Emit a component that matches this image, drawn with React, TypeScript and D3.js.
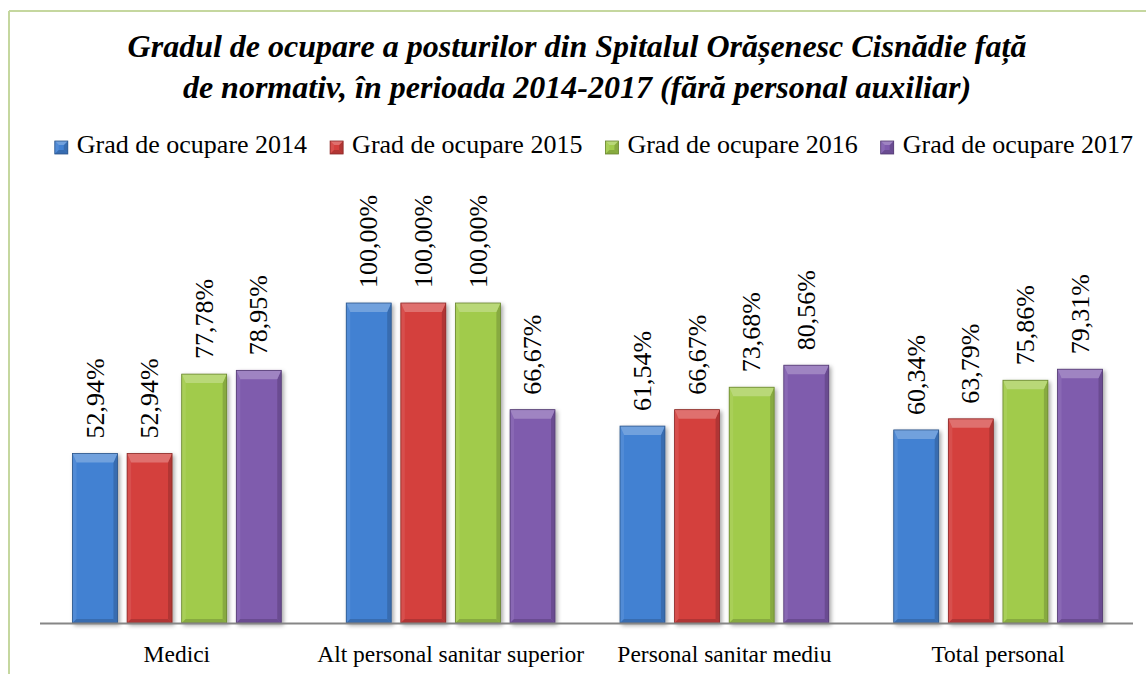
import React, { useEffect, useRef } from 'react';
import * as d3 from 'd3';

// categories and series
const categories = ['Medici', 'Alt personal sanitar superior', 'Personal sanitar mediu', 'Total personal'];
const seriesNames = ['Grad de ocupare 2014', 'Grad de ocupare 2015', 'Grad de ocupare 2016', 'Grad de ocupare 2017'];
const values2014 = [52.94, 100.0, 61.54, 60.34];
const values2015 = [52.94, 100.0, 66.67, 63.79];
const values2016 = [77.78, 100.0, 73.68, 75.86];
const values2017 = [78.95, 66.67, 80.56, 79.31];
const seriesColors = ['#4281d2', '#d4403e', '#a1cb4b', '#7f5bad'];

const titleLines = [
  'Gradul de ocupare a posturilor din Spitalul Orășenesc Cisnădie față',
  'de normativ, în perioada 2014-2017 (fără personal auxiliar)',
];

const SERIF = "'Liberation Serif', 'Times New Roman', Tinos, 'DejaVu Serif', serif";

function App() {
  const ref = useRef<SVGSVGElement | null>(null);

  useEffect(() => {
    if (!ref.current) return;
    const W = 1146, H = 674;
    const svg = d3.select(ref.current);
    svg.selectAll('*').remove();

    const allSeries = [values2014, values2015, values2016, values2017];
    const fmt = (v: number) => v.toFixed(2).replace('.', ',') + '%';

    const defs = svg.append('defs');
    const f = defs.append('filter').attr('id', 'shadow').attr('x', '-20%').attr('y', '-20%').attr('width', '150%').attr('height', '150%');
    f.append('feDropShadow').attr('dx', 2).attr('dy', 2).attr('stdDeviation', 2).attr('flood-color', '#000').attr('flood-opacity', 0.35);

    // frame
    svg.append('line').attr('x1', 9).attr('x2', W).attr('y1', 11).attr('y2', 11).attr('stroke', '#c5d79f').attr('stroke-width', 2);
    svg.append('line').attr('x1', 9).attr('x2', 9).attr('y1', 11).attr('y2', H).attr('stroke', '#c5d79f').attr('stroke-width', 2);

    // title
    svg.append('g').selectAll('text').data(titleLines).enter().append('text')
      .attr('x', 577).attr('y', (d, i) => 57 + i * 41)
      .attr('text-anchor', 'middle')
      .style('font-family', SERIF)
      .attr('font-weight', 'bold').attr('font-style', 'italic')
      .attr('font-size', 32).attr('fill', '#000')
      .text(d => d);

    // scales
    const x0 = d3.scaleBand<string>().domain(categories).range([40, 1135]);
    const groupPad = 32.5;
    const x1 = d3.scaleBand<number>().domain([0, 1, 2, 3])
      .range([0, x0.bandwidth() - groupPad * 2]).paddingInner(0.177).paddingOuter(0);
    const y = d3.scaleLinear().domain([0, 100]).range([623, 303]);

    const drawBevelBar = (g: any, bx: number, by: number, bw: number, bh: number, color: string, bev: number, side: number) => {
      const c = d3.color(color)!;
      const light = d3.interpolateRgb(color, '#ffffff')(0.25);
      const dark = c.darker(0.5).formatHex();
      const darker = c.darker(1.2).formatHex();
      g.append('rect').attr('x', bx).attr('y', by).attr('width', bw).attr('height', bh).attr('fill', color);
      // left side
      g.append('path').attr('d', `M${bx},${by}L${bx + side},${by + bev}L${bx + side},${by + bh - side}L${bx},${by + bh}Z`)
        .attr('fill', d3.interpolateRgb(color, '#ffffff')(0.08));
      // right side
      g.append('path').attr('d', `M${bx + bw},${by}L${bx + bw - side},${by + bev}L${bx + bw - side},${by + bh - side}L${bx + bw},${by + bh}Z`)
        .attr('fill', dark);
      // bottom
      g.append('path').attr('d', `M${bx},${by + bh}L${bx + side},${by + bh - side}L${bx + bw - side},${by + bh - side}L${bx + bw},${by + bh}Z`)
        .attr('fill', dark);
      // top bevel
      g.append('path').attr('d', `M${bx},${by}L${bx + bw},${by}L${bx + bw - side},${by + bev}L${bx + side},${by + bev}Z`)
        .attr('fill', light);
      g.append('rect').attr('x', bx).attr('y', by).attr('width', bw).attr('height', bh)
        .attr('fill', 'none').attr('stroke', darker).attr('stroke-width', 0.8);
    };

    // bars
    const plot = svg.append('g');
    categories.forEach((cat, ci) => {
      allSeries.forEach((vals, si) => {
        const bx = (x0(cat) as number) + groupPad + (x1(si) as number);
        const bw = x1.bandwidth();
        const by = y(vals[ci]);
        const bh = y(0) - by;
        const g = plot.append('g').attr('filter', 'url(#shadow)');
        drawBevelBar(g, bx, by, bw, bh, seriesColors[si], 9, 4);
        const lx = bx + bw / 2;
        const ly = by - 15;
        plot.append('text')
          .attr('transform', `translate(${lx},${ly}) rotate(-90)`)
          .attr('dy', '0.33em')
          .style('font-family', SERIF)
          .attr('font-size', 26).attr('fill', '#000')
          .text(fmt(vals[ci]));
      });
    });

    // axis line
    svg.append('line').attr('x1', 40).attr('x2', 1133).attr('y1', 623.5).attr('y2', 623.5)
      .attr('stroke', '#868686').attr('stroke-width', 2);

    // category labels
    svg.append('g').selectAll('text').data(categories).enter().append('text')
      .attr('x', d => (x0(d) as number) + x0.bandwidth() / 2)
      .attr('y', 662)
      .attr('text-anchor', 'middle')
      .style('font-family', SERIF)
      .attr('font-size', 23.5).attr('fill', '#000')
      .text(d => d);

    // legend
    const legend = svg.append('g');
    let cx = 0;
    seriesNames.forEach((name, i) => {
      const g = legend.append('g');
      drawBevelBar(g, 0, -12, 13, 13, seriesColors[i], 4, 4);
      const t = g.append('text').attr('x', 22).attr('y', 0)
        .style('font-family', SERIF)
        .attr('font-size', 26).attr('fill', '#000').text(name);
      const tw = (t.node() as SVGTextElement).getComputedTextLength();
      g.attr('transform', `translate(${cx},0)`);
      cx += 22 + tw + 23;
    });
    const totalW = cx - 23;
    legend.attr('transform', `translate(${1132 - totalW + 1},153)`);
  }, []);

  return (
    <svg ref={ref} width={1146} height={674}
      style={{ position: 'absolute', left: 0, top: 0, background: '#fff' }} />
  );
}

export default App;
